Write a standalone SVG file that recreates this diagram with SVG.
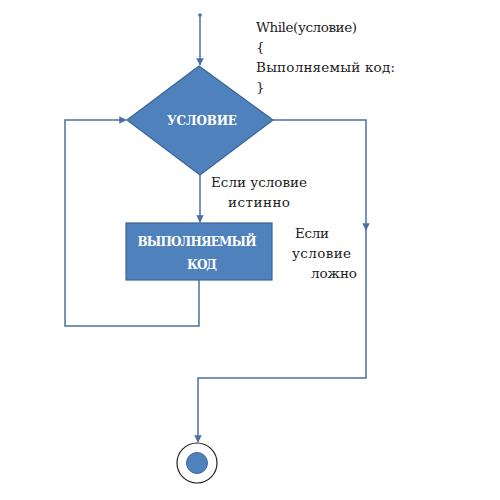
<svg xmlns="http://www.w3.org/2000/svg" width="500" height="500" viewBox="0 0 500 500">
<defs>
<style>
.ln{fill:none;stroke:#4a70a4;stroke-width:1.5}
.shape{fill:#4f81bd;stroke:#3b6597;stroke-width:1.2}
.t{font-family:"DejaVu Serif","Liberation Serif",serif;font-size:13.5px;fill:#222}
.w{font-family:"DejaVu Serif","Liberation Serif",serif;font-size:12px;font-weight:bold;fill:#fff}
</style>
<marker id="ar" viewBox="0 0 10 10" refX="9" refY="5" markerWidth="5" markerHeight="5" orient="auto">
<path d="M0,0 L10,5 L0,10 z" fill="#4a70a4"/>
</marker>
</defs>
<rect width="500" height="500" fill="#fff"/>
<g id="connectors">
<circle cx="200" cy="15" r="1.8" fill="#4a70a4"/>
<path class="ln" d="M200,15 V65" marker-end="url(#ar)"/>
<path class="ln" d="M200,175 V222" marker-end="url(#ar)"/>
<path class="ln" d="M199,280 V326 H65 V120 H126" marker-end="url(#ar)"/>
<path class="ln" d="M273,120 H366 V230" marker-end="url(#ar)"/>
<path class="ln" d="M366,228 V378 H198 V442" marker-end="url(#ar)"/>
</g>
<g id="code">
<text class="t" x="256" y="32" textLength="101">While(условие)</text>
<text class="t" x="256" y="52">{</text>
<text class="t" x="256" y="72" textLength="139">Выполняемый код:</text>
<text class="t" x="256" y="92">}</text>
</g>
<g id="condition">
<polygon class="shape" points="199,66 273,120 200,175 127,120"/>
<text class="w" x="202" y="125" text-anchor="middle" textLength="70">УСЛОВИЕ</text>
</g>
<g id="body">
<rect class="shape" x="126" y="223" width="146" height="57"/>
<text class="w" x="197" y="246" text-anchor="middle" textLength="119">ВЫПОЛНЯЕМЫЙ</text>
<text class="w" x="202" y="269" text-anchor="middle" textLength="30">КОД</text>
</g>
<g id="labels">
<text class="t" x="211" y="187" textLength="96">Если условие</text>
<text class="t" x="228" y="207" textLength="62">истинно</text>
<text class="t" x="295" y="238" textLength="34">Если</text>
<text class="t" x="292" y="258" textLength="59">условие</text>
<text class="t" x="311" y="278" textLength="46">ложно</text>
</g>
<g id="end">
<circle cx="197" cy="463" r="20" fill="#fff" stroke="#222" stroke-width="1.2"/>
<circle cx="197" cy="463" r="10.5" fill="#4f81bd" stroke="#3b6597" stroke-width="1"/>
</g>
</svg>
